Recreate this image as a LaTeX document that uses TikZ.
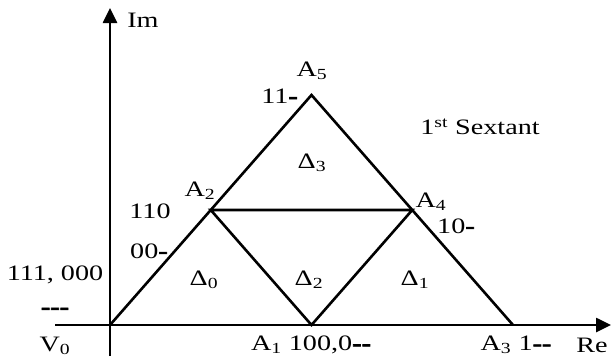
\documentclass[tikz,border=0pt]{standalone}
\usepackage{fontspec}
\setmainfont{Liberation Serif}
\newfontfamily\heavyfont[FakeBold=2.5]{Liberation Serif Bold}
\usepackage{graphicx}
\usetikzlibrary{arrows.meta}
\newcommand\wtxt[1]{\scalebox{1.28}[1]{#1}}
\newcommand\bd{{\heavyfont -}}
\begin{document}
\begin{tikzpicture}[x=1pt,y=-1pt,
  lbl/.style={inner sep=0pt, font=\fontsize{22}{26}\selectfont},
  ln/.style={line width=2.6pt},
  axis/.style={line width=2.6pt,-{Triangle[length=15pt,width=14pt]}}]
\useasboundingbox (0,0) rectangle (611,360);
% axes
\coordinate (xs) at (55,325);
\coordinate (xe) at (611,325);
\coordinate (ys) at (110,356);
\coordinate (ye) at (110,8);
\draw[axis] (xs) -- (xe);
\draw[axis] (ys) -- (ye);
% vertices
\coordinate (V0) at (110,325);
\coordinate (A1) at (311.5,325);
\coordinate (A3) at (513,325);
\coordinate (A5) at (311.5,95);
\coordinate (A2) at (210.75,210);
\coordinate (A4) at (412.25,210);
\draw[ln] (V0) -- (A5) -- (A3);
\draw[ln] (A2) -- (A4) -- (A1) -- cycle;
% labels
\node[lbl] (im) at (143,20) {\wtxt{Im}};
\node[lbl] (a5) at (312,71) {\wtxt{A\textsubscript{5}}};
\node[lbl,anchor=east] (l11) at (298,96) {\wtxt{11\bd}};
\node[lbl] (sext) at (480,127) {\wtxt{1\textsuperscript{st} Sextant}};
\node[lbl] (d3) at (312,163) {\wtxt{Δ\textsubscript{3}}};
\node[lbl] (a2) at (200,191) {\wtxt{A\textsubscript{2}}};
\node[lbl] (l110) at (150,211) {\wtxt{110}};
\node[lbl] (a4) at (431,202) {\wtxt{A\textsubscript{4}}};
\node[lbl] (l10) at (456,226) {\wtxt{10\bd}};
\node[lbl] (l00) at (149,251) {\wtxt{00\bd}};
\node[lbl] (l111) at (55,275) {\wtxt{111, 000}};
\node[lbl] (ldash) at (55,311) {\wtxt{\bd\bd\bd}};
\node[lbl] (v0) at (55,346) {\wtxt{V\textsubscript{0}}};
\node[lbl] (d0) at (204,280) {\wtxt{Δ\textsubscript{0}}};
\node[lbl] (d2) at (309,280) {\wtxt{Δ\textsubscript{2}}};
\node[lbl] (d1) at (415,280) {\wtxt{Δ\textsubscript{1}}};
\node[lbl] (a1) at (311,345) {\wtxt{A\textsubscript{1} 100,0\bd\bd}};
\node[lbl] (a3) at (516,345) {\wtxt{A\textsubscript{3} 1\bd\bd}};
\node[lbl] (re) at (592,345) {\wtxt{Re}};
\end{tikzpicture}
\end{document}
